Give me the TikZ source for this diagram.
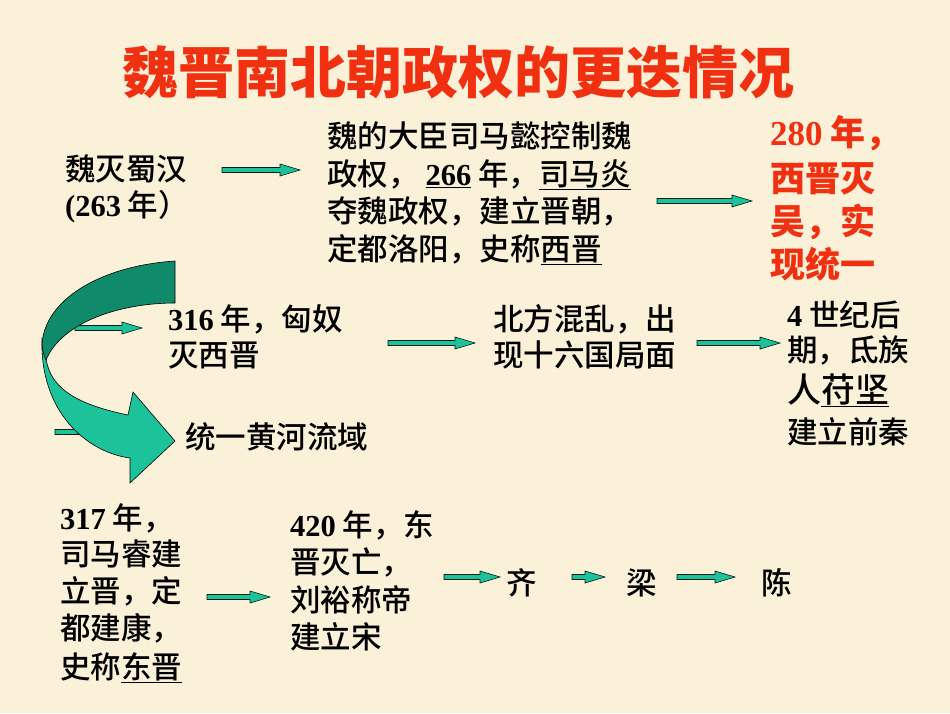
\documentclass[tikz,border=0pt]{standalone}
\usepackage{fontspec}
\setmainfont{Liberation Serif}
\newfontfamily\cjk{Noto Sans CJK SC}
\newfontfamily\cjkm{Noto Sans CJK SC Medium}
\newfontfamily\numf{Liberation Serif}
\newcommand{\nb}[1]{{\numf\bfseries #1}}
\usetikzlibrary{calc}
\definecolor{bg}{HTML}{FBF0D8}
\definecolor{tealA}{HTML}{1CC39A}
\definecolor{tealB}{HTML}{0F8A6A}
\definecolor{redT}{HTML}{F03010}
\newcommand{\barrow}[3]{%
  \fill[tealA,draw=black!80!tealB,line width=0.6pt] (#1,#2-2.5) -- (#3-20,#2-2.5) -- (#3-20,#2-6) -- (#3,#2) -- (#3-20,#2+6) -- (#3-20,#2+2.5) -- (#1,#2+2.5) -- cycle;}
\begin{document}
\begin{tikzpicture}[x=1pt,y=-1pt,
  t/.style={anchor=base west,inner sep=0,font=\fontsize{30.5}{30.5}\selectfont\cjkm},
  r/.style={anchor=base west,inner sep=0,text=redT,font=\fontsize{35}{35}\selectfont\bfseries\cjk}]
\fill[bg] (0,0) rectangle (950,713);
\useasboundingbox (0,0) rectangle (950,713);
\node[anchor=base,inner sep=0,text=redT] (title) at (458,93) {\fontsize{56}{56}\selectfont\bfseries\cjk 魏晋南北朝政权的更迭情况};
% row 1
\node[t] (a1) at (65,180) {魏灭蜀汉};
\node[t] (a2) at (65,216) {\nb{(263} 年）};
\node[t] (b1) at (327,147) {魏的大臣司马懿控制魏};
\node[t] (b2) at (327,185) {政权， \underline{\nb{266}} 年，\underline{司马炎}};
\node[t] (b3) at (327,222) {夺魏政权，建立晋朝，};
\node[t] (b4) at (327,260) {定都洛阳，史称\underline{西晋}};
\node[r] (c1) at (770,145) {\nb{280} 年，};
\node[r] (c2) at (770,191) {西晋灭};
\node[r] (c3) at (770,234) {吴，实};
\node[r] (c4) at (770,277) {现统一};
% row 2
\node[t] (d1) at (168,330) {\nb{316} 年，匈奴};
\node[t] (d2) at (168,366) {灭西晋};
\node[t] (e1) at (493,330) {北方混乱，出};
\node[t] (e2) at (493,366) {现十六国局面};
\node[t] (f1) at (787,326) {\nb{4} 世纪后};
\node[t] (f2) at (787,361) {期，氐族};
\node[t,font=\fontsize{34}{34}\selectfont\cjkm] (f3) at (787,402) {人\underline{苻坚}};
\node[t] (f4) at (787,443) {建立前秦};
\node[t] (g) at (185,448) {统一黄河流域};
% row 3
\node[t] (h1) at (60,529) {\nb{317} 年，};
\node[t] (h2) at (60,565) {司马睿建};
\node[t] (h3) at (60,602) {立晋，定};
\node[t] (h4) at (60,639) {都建康，};
\node[t] (h5) at (60,678) {史称\underline{东晋}};
\node[t] (i1) at (290,536) {\nb{420} 年，东};
\node[t] (i2) at (290,573) {晋灭亡，};
\node[t] (i3) at (290,611) {刘裕称帝};
\node[t] (i4) at (290,648) {建立宋};
\node[t] (q) at (506,594) {齐};
\node[t] (l) at (626,594) {梁};
\node[t] (ch) at (761,594) {陈};
% arrows
\barrow{222}{170}{300}
\barrow{657}{201}{752}
\barrow{75}{328}{142}
\barrow{388}{343}{475}
\barrow{697}{343}{780}
\barrow{55}{432}{130}
\barrow{207}{597}{270}
\barrow{444}{577}{500}
\barrow{572}{577}{605}
\barrow{677}{577}{735}
% curved ribbon arrow
\fill[tealA,draw=black,line width=0.6pt] (42,340) .. controls (40,410) and (85,452) .. (130,458) -- (130,483) -- (175,441) -- (133,392) -- (128,415) .. controls (80,405) and (50,390) .. (46,358) -- cycle;
\fill[tealB,draw=black,line width=0.6pt] (175,261) .. controls (100,266) and (44,300) .. (42,345) .. controls (43,352) and (44,356) .. (46,360) .. controls (62,322) and (120,303) .. (175,303) -- cycle;
\end{tikzpicture}
\end{document}
